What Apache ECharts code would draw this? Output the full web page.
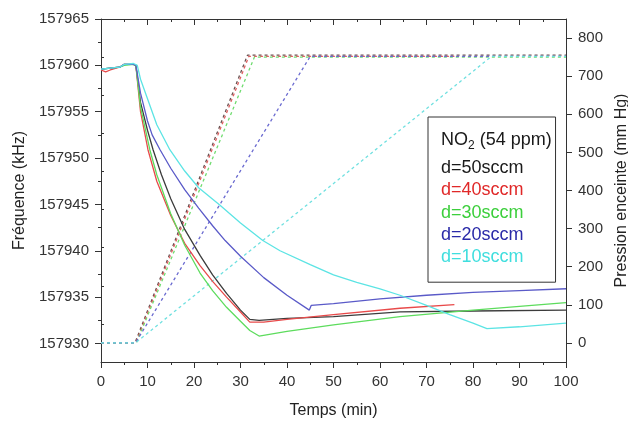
<!DOCTYPE html>
<html><head><meta charset="utf-8">
<script src="https://cdn.jsdelivr.net/npm/echarts@6/dist/echarts.min.js"></script>
<style>html,body{margin:0;padding:0;background:#fff}#c{width:628px;height:421px}</style>
</head><body><div id="c"></div>
<script>
// ---- data ----
const seriesNames = ['d=50sccm','d=40sccm','d=30sccm','d=20sccm','d=10sccm'];
const xTicks = [0,10,20,30,40,50,60,70,80,90,100];
const freqTicks = [157930,157935,157940,157945,157950,157955,157960,157965];
const freqMinorTicks = [157932.5,157937.5,157942.5,157947.5,157952.5,157957.5,157962.5];
const pressTicks = [0,100,200,300,400,500,600,700,800];
const pressMinorTicks = [-50,50,150,250,350,450,550,650,750,850];

// frequency (kHz) vs time (min)
const t50 = [0,2,4,5,7,7.5,8.5,10,11.2,13,15,18,21.3,24,27,30,32,34,40,50,64.3,80,100];
const f50 = [157959.6,157959.7,157959.8,157960.1,157960.1,157960,157956,157953,157950.9,157948.2,157945.6,157942.3,157939.5,157937.4,157935.4,157933.6,157932.6,157932.5,157932.7,157932.9,157933.4,157933.5,157933.6];
const t40 = [0,1,2,4,5,7,7.5,8.5,10.1,12,15,18,21.3,24,27,30,32,35,40,50,64.3,76];
const f40 = [157959.5,157959.3,157959.5,157959.8,157960.1,157960.1,157960,157955,157950.9,157947.5,157943.8,157940.8,157938.4,157936.7,157935,157933.4,157932.3,157932.3,157932.6,157933.1,157933.8,157934.2];
const t30 = [0,2,4,5,7,7.5,8.5,10.5,12,15,18,21.3,24,27,30,32,34,40,50,64.3,80,90,100];
const f30 = [157959.6,157959.7,157959.8,157960,157960.1,157960,157955.5,157950.9,157948.2,157944,157940.6,157937.6,157935.7,157933.9,157932.4,157931.4,157930.8,157931.3,157932,157932.9,157933.6,157934,157934.4];
const t20 = [0,2,4,5,7,7.5,8.5,10,11,12.7,15,18,21,24,26.7,30,35,40,44.8,45.2,50,60,70,80,90,100];
const f20 = [157959.6,157959.7,157959.8,157960.1,157960.1,157960,157957,157954,157952.5,157950.9,157948.9,157946.6,157944.6,157942.7,157941.1,157939.4,157937.1,157935.2,157933.6,157934.1,157934.3,157934.8,157935.2,157935.5,157935.7,157935.9];
const t10 = [0,2,4,5,7,7.8,8.5,10.5,12,14.8,18,21,25.6,30,34.8,38.5,45,50,55,60,64.3,70,75,80,83,90,100];
const f10 = [157959.6,157959.7,157959.8,157960.1,157960.2,157960,157958.5,157955.7,157953.6,157950.9,157948.6,157946.8,157944.9,157943,157941.1,157940,157938.5,157937.4,157936.6,157935.9,157935.2,157934.1,157933.1,157932.2,157931.6,157931.8,157932.2];

// chamber pressure (mm Hg) vs time (min)
const pt50 = [0,7.3,31.5,100], p50 = [0,0,755,755];
const pt40 = [0,7.5,31.8,76],  p40 = [0,0,752,752];
const pt30 = [0,7.6,33,100],   p30 = [0,0,750,750];
const pt20 = [0,7.4,45,100],   p20 = [0,0,752,752];
const pt10 = [0,7.4,84,100],   p10 = [0,0,752,752];

const lineColors = ['#3c3c3c','#e84a4a','#5ddc5d','#5a5ac8','#5ce4e4'];
const dashColors = ['#6a5050','#e06060','#70dc70','#6a6ad0','#70e0e0'];
const textColors = ['#1a1a1a','#e02828','#3ccf3c','#2a2aa8','#3fdede'];

const FONT = '"Liberation Sans", Arial, sans-serif';
const zip = (a,b) => a.map((v,i)=>[v,b[i]]);
const freqT = [t50,t40,t30,t20,t10], freqV = [f50,f40,f30,f20,f10];
const presT = [pt50,pt40,pt30,pt20,pt10], presV = [p50,p40,p30,p20,p10];

const series = [];
for (let i=0;i<5;i++){
  series.push({name:'P'+seriesNames[i], type:'line', xAxisIndex:0, yAxisIndex:1, symbol:'none',
    data: zip(presT[i],presV[i]), lineStyle:{color:dashColors[i], width:1.3, type:[3,3]}, z:2});
}
for (let i=0;i<5;i++){
  series.push({name:seriesNames[i], type:'line', xAxisIndex:0, yAxisIndex:0, symbol:'none',
    data: zip(freqT[i],freqV[i]), lineStyle:{color:lineColors[i], width:1.3}, itemStyle:{color:lineColors[i]}, z:3});
}

const axLine = {show:true, onZero:false, lineStyle:{color:'#333', width:1}};
const tickStyle = {color:'#333', width:1};
const lab = {color:'#333', fontSize:15, fontFamily:FONT, formatter:(v)=>String(v)};

const option = {
  animation:false,
  backgroundColor:'#fff',
  grid:{left:101,right:62,top:19,bottom:59, outerBoundsMode:'none', containLabel:false},
  xAxis:[
    {type:'value', position:'bottom', min:0, max:100, interval:10,
     axisLine:axLine, axisTick:{length:6, lineStyle:tickStyle},
     minorTick:{show:true, splitNumber:2, length:3, lineStyle:tickStyle},
     axisLabel:Object.assign({margin:12, customValues:xTicks}, lab),
     splitLine:{show:false}, minorSplitLine:{show:false},
     name:'Temps (min)', nameLocation:'middle', nameGap:41,
     nameTextStyle:{fontSize:16, color:'#222', fontFamily:FONT}},
    {type:'value', position:'top', min:0, max:100, interval:10,
     axisLine:axLine, axisTick:{inside:true, length:6, lineStyle:tickStyle},
     minorTick:{show:true, splitNumber:2, length:3, lineStyle:tickStyle},
     axisLabel:{show:false}, splitLine:{show:false}}
  ],
  yAxis:[
    {type:'value', position:'left', min:157928, max:157965,
     axisLine:axLine,
     axisTick:{show:true, length:6, customValues:freqTicks, lineStyle:tickStyle},
     axisLabel:Object.assign({margin:12, customValues:freqTicks}, lab),
     splitLine:{show:false},
     name:'Fréquence (kHz)', nameLocation:'middle', nameGap:67, nameRotate:90,
     nameTextStyle:{fontSize:16, color:'#222', fontFamily:FONT}},
    {type:'value', position:'right', min:-50, max:850,
     axisLine:axLine,
     axisTick:{show:true, length:6, customValues:pressTicks, lineStyle:tickStyle},
     axisLabel:Object.assign({margin:12, customValues:pressTicks}, lab),
     splitLine:{show:false},
     name:'Pression enceinte (mm Hg)', nameLocation:'middle', nameGap:45, nameRotate:90,
     nameTextStyle:{fontSize:16, color:'#222', fontFamily:FONT}},
    {type:'value', position:'left', min:157928, max:157965,
     axisLine:{show:false}, axisTick:{show:true, length:3, customValues:freqMinorTicks, lineStyle:tickStyle},
     axisLabel:{show:false}, splitLine:{show:false}},
    {type:'value', position:'right', min:-50, max:850,
     axisLine:{show:false}, axisTick:{show:true, length:3, customValues:pressMinorTicks, lineStyle:tickStyle},
     axisLabel:{show:false}, splitLine:{show:false}}
  ],
  legend:{
    orient:'vertical', left:428, top:117, selectedMode:false,
    padding:[42,32,16,8], itemWidth:0, itemHeight:18, itemGap:4.3, icon:'none',
    borderColor:'#333', borderWidth:1, backgroundColor:'#fff',
    textStyle:{fontSize:18, fontFamily:FONT},
    data: seriesNames.map((n,i)=>({name:n, textStyle:{color:textColors[i]}}))
  },
  graphic:[{
    type:'text', left:441, top:131, z:100,
    style:{text:'{a|NO}{s|2}{a| (54 ppm)}', fontFamily:FONT, fill:'#1a1a1a',
      rich:{a:{fontSize:18, lineHeight:24, fontFamily:FONT, fill:'#1a1a1a'},
            s:{fontSize:12, lineHeight:24, verticalAlign:'bottom', fontFamily:FONT, fill:'#1a1a1a'}}}
  }],
  series: series
};
const chart = echarts.init(document.getElementById('c'), null, {renderer:'canvas'});
chart.setOption(option);
</script></body></html>
